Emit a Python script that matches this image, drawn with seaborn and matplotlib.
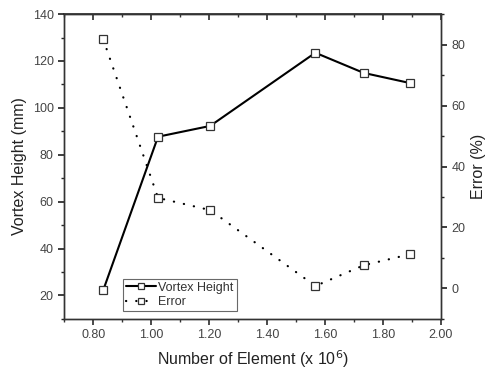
import numpy as np
import pandas as pd
import matplotlib
matplotlib.use("Agg")
import matplotlib.pyplot as plt
import seaborn as sns
from matplotlib.ticker import MultipleLocator, FormatStrFormatter
from matplotlib.lines import Line2D

# data
elements = [0.835, 1.024, 1.204, 1.567, 1.734, 1.893]
vortex_height = [22.3, 87.7, 92.3, 123.5, 114.9, 110.6]
error_pct = [81.7, 29.7, 25.7, 0.8, 7.6, 11.2]

df = pd.DataFrame({"elements": elements, "height": vortex_height, "error": error_pct})

sns.set_theme(style="ticks")
plt.rcParams["font.family"] = ["Liberation Sans", "DejaVu Sans"]

fig = plt.figure(figsize=(4.86, 3.70), dpi=100)
ax = fig.add_axes([0.132, 0.138, 0.775, 0.824])
ax2 = ax.twinx()

sns.lineplot(data=df, x="elements", y="height", ax=ax, color="black", lw=1.5,
             marker="s", markersize=6, markerfacecolor="white",
             markeredgecolor="#333333", markeredgewidth=0.9, legend=False)
dots = (0, (0.1, 4.5))
sns.lineplot(data=df, x="elements", y="error", ax=ax2, color="black", lw=1.6,
             linestyle=dots, dash_capstyle="round",
             marker="s", markersize=5.5, markerfacecolor="white",
             markeredgecolor="#333333", markeredgewidth=0.9, legend=False)
# small dot inside the error markers
sns.scatterplot(data=df, x="elements", y="error", ax=ax2, color="#555555",
                marker="s", s=3, linewidth=0, legend=False)

ax.set_xlim(0.7, 2.0)
ax.set_ylim(10, 140)
ax2.set_ylim(-10, 90)

ax.xaxis.set_major_locator(MultipleLocator(0.2))
ax.xaxis.set_minor_locator(MultipleLocator(0.1))
ax.yaxis.set_major_locator(MultipleLocator(20))
ax.yaxis.set_minor_locator(MultipleLocator(10))
ax2.yaxis.set_major_locator(MultipleLocator(20))
ax2.yaxis.set_minor_locator(MultipleLocator(10))
ax.xaxis.set_major_formatter(FormatStrFormatter("%.2f"))

tick_col = "#444444"
ax.tick_params(axis="x", which="both", direction="out", colors="#333333",
               labelcolor=tick_col, labelsize=9)
ax.tick_params(axis="x", which="major", length=4)
ax.tick_params(axis="x", which="minor", length=2.5)
ax.tick_params(axis="y", which="major", length=4, labelsize=9, labelcolor=tick_col)
ax.tick_params(axis="y", which="minor", length=2.5)
ax2.tick_params(axis="y", which="major", length=4, labelsize=9, labelcolor=tick_col)
ax2.tick_params(axis="y", which="minor", length=2.5)
# inward ticks on the top edge
top = ax.secondary_xaxis("top")
top.xaxis.set_major_locator(MultipleLocator(0.2))
top.xaxis.set_minor_locator(MultipleLocator(0.1))
top.tick_params(which="both", direction="in", labeltop=False, colors="#333333")
top.tick_params(which="major", length=4)
top.tick_params(which="minor", length=2.5)

for a in (ax, ax2):
    for s in a.spines.values():
        s.set_visible(True)
        s.set_color("#333333")
        s.set_linewidth(1.0)
top.spines["top"].set_color("#333333")

ax.set_xlabel("Number of Element (x 10$^6$)", fontsize=11.5, color="#222222", labelpad=5)
ax.set_ylabel("Vortex Height (mm)", fontsize=11.5, color="#222222", labelpad=4)
ax2.set_ylabel("Error (%)", fontsize=11.5, color="#222222", labelpad=4)

handles = [
    Line2D([], [], color="black", lw=1.5, marker="s", markersize=5,
           markerfacecolor="white", markeredgecolor="#333333", markeredgewidth=0.9),
    Line2D([], [], color="black", lw=1.6, linestyle=dots, dash_capstyle="round",
           marker="s", markersize=5, markerfacecolor="white",
           markeredgecolor="#333333", markeredgewidth=0.9),
]
leg = ax.legend(handles, ["Vortex Height", "Error"], loc="lower left",
                bbox_to_anchor=(0.155, 0.025), frameon=True, fancybox=False,
                edgecolor="#444444", fontsize=9, handlelength=2.4,
                borderpad=0.25, labelspacing=0.2, handletextpad=0.2,
                borderaxespad=0.0)
leg.get_frame().set_linewidth(0.8)
for t in leg.get_texts():
    t.set_color("#333333")

fig.savefig("out.png", dpi=100)
